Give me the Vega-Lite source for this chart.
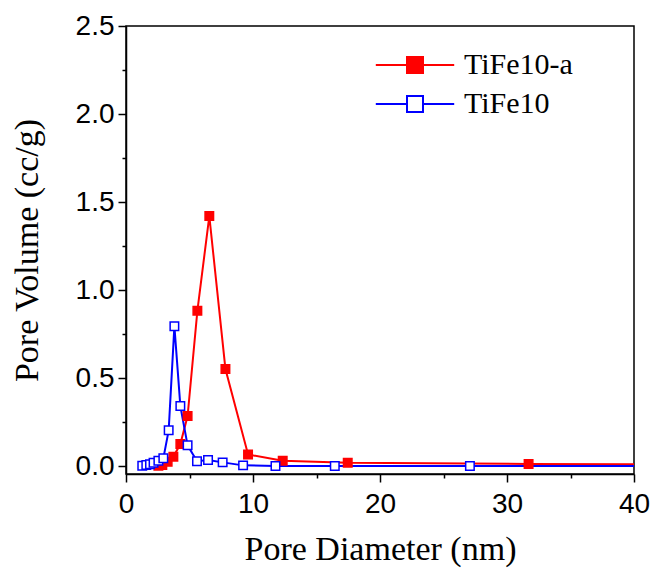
{
  "$schema": "https://vega.github.io/schema/vega-lite/v6.json",
  "width": 508,
  "height": 448,
  "autosize": {"type": "none"},
  "padding": {"left": 126, "top": 26, "right": 20, "bottom": 100},
  "background": "white",
  "config": {
    "view": {"stroke": "black", "strokeWidth": 1.5},
    "axis": {
      "domainColor": "black",
      "domainWidth": 1.5,
      "tickColor": "black",
      "tickWidth": 1.5,
      "grid": false,
      "labelFont": "Liberation Sans",
      "labelFontSize": 28,
      "labelColor": "black",
      "titleFont": "Liberation Serif",
      "titleFontSize": 34,
      "titleFontWeight": "normal",
      "titleColor": "black"
    },
    "legend": {
      "title": null,
      "orient": "none",
      "legendX": 274,
      "legendY": 24,
      "padding": 0,
      "symbolType": "M-4.9,0H-1M1,0H4.9M-1,-1H1V1H-1Z",
      "symbolSize": 256,
      "symbolStrokeWidth": 2,
      "labelFont": "Liberation Serif",
      "labelFontSize": 30,
      "labelColor": "black",
      "labelOffset": 34,
      "rowPadding": 9
    }
  },
  "data": {
    "values": [
      {"series": "TiFe10-a", "d": 2.55, "v": 0.002},
      {"series": "TiFe10-a", "d": 2.86, "v": 0.006},
      {"series": "TiFe10-a", "d": 3.28, "v": 0.024},
      {"series": "TiFe10-a", "d": 3.73, "v": 0.053},
      {"series": "TiFe10-a", "d": 4.28, "v": 0.125},
      {"series": "TiFe10-a", "d": 4.85, "v": 0.284},
      {"series": "TiFe10-a", "d": 5.62, "v": 0.882},
      {"series": "TiFe10-a", "d": 6.56, "v": 1.42},
      {"series": "TiFe10-a", "d": 7.83, "v": 0.551},
      {"series": "TiFe10-a", "d": 9.61, "v": 0.066},
      {"series": "TiFe10-a", "d": 12.34, "v": 0.030},
      {"series": "TiFe10-a", "d": 17.46, "v": 0.019},
      {"series": "TiFe10-a", "d": 31.7, "v": 0.012},
      {"series": "TiFe10-a", "d": 45, "v": 0.010},
      {"series": "TiFe10", "d": 1.28, "v": 0.002},
      {"series": "TiFe10", "d": 1.6, "v": 0.006},
      {"series": "TiFe10", "d": 1.89, "v": 0.010},
      {"series": "TiFe10", "d": 2.17, "v": 0.019},
      {"series": "TiFe10", "d": 2.55, "v": 0.030},
      {"series": "TiFe10", "d": 2.94, "v": 0.044},
      {"series": "TiFe10", "d": 3.36, "v": 0.203},
      {"series": "TiFe10", "d": 3.81, "v": 0.795},
      {"series": "TiFe10", "d": 4.28, "v": 0.341},
      {"series": "TiFe10", "d": 4.85, "v": 0.118},
      {"series": "TiFe10", "d": 5.59, "v": 0.028},
      {"series": "TiFe10", "d": 6.46, "v": 0.034},
      {"series": "TiFe10", "d": 7.61, "v": 0.021},
      {"series": "TiFe10", "d": 9.22, "v": 0.004},
      {"series": "TiFe10", "d": 11.77, "v": 0.001},
      {"series": "TiFe10", "d": 16.44, "v": 0.001},
      {"series": "TiFe10", "d": 27.08, "v": 0.001},
      {"series": "TiFe10", "d": 45, "v": 0.001}
    ]
  },
  "encoding": {
    "x": {
      "field": "d",
      "type": "quantitative",
      "title": "Pore Diameter (nm)",
      "scale": {"domain": [0, 40], "nice": false, "zero": false},
      "axis": {
        "values": [0, 5, 10, 15, 20, 25, 30, 35, 40],
        "labelExpr": "datum.value % 10 === 0 ? datum.label : ''",
        "tickSize": {"condition": {"test": "datum.value % 10 === 0", "value": 8}, "value": 4},
        "labelPadding": 8,
        "titlePadding": 14,
        "labelFlush": false
      }
    },
    "y": {
      "field": "v",
      "type": "quantitative",
      "title": "Pore Volume (cc/g)",
      "scale": {"domain": [-0.045, 2.5], "nice": false, "zero": false},
      "axis": {
        "values": [0, 0.25, 0.5, 0.75, 1, 1.25, 1.5, 1.75, 2, 2.25, 2.5],
        "labelExpr": "abs(datum.value * 2 - round(datum.value * 2)) < 0.000001 ? format(datum.value, '.1f') : ''",
        "tickSize": {"condition": {"test": "abs(datum.value * 2 - round(datum.value * 2)) < 0.000001", "value": 8}, "value": 4},
        "labelPadding": 4,
        "titlePadding": 31,
        "labelFlush": false
      }
    }
  },
  "layer": [
    {
      "mark": {"type": "line", "strokeWidth": 2, "clip": true},
      "encoding": {
        "stroke": {
          "field": "series",
          "type": "nominal",
          "scale": {"domain": ["TiFe10-a", "TiFe10"], "range": ["#ff0000", "#0000ff"]}
        },
        "order": {"field": "d", "type": "quantitative"}
      }
    },
    {
      "mark": {"type": "point", "shape": "square", "size": 72, "strokeWidth": 1.5, "opacity": 1, "filled": false, "clip": true},
      "encoding": {
        "stroke": {
          "field": "series",
          "type": "nominal",
          "scale": {"domain": ["TiFe10-a", "TiFe10"], "range": ["#ff0000", "#0000ff"]}
        },
        "fill": {
          "field": "series",
          "type": "nominal",
          "scale": {"domain": ["TiFe10-a", "TiFe10"], "range": ["#ff0000", "#ffffff"]}
        }
      }
    }
  ]
}
